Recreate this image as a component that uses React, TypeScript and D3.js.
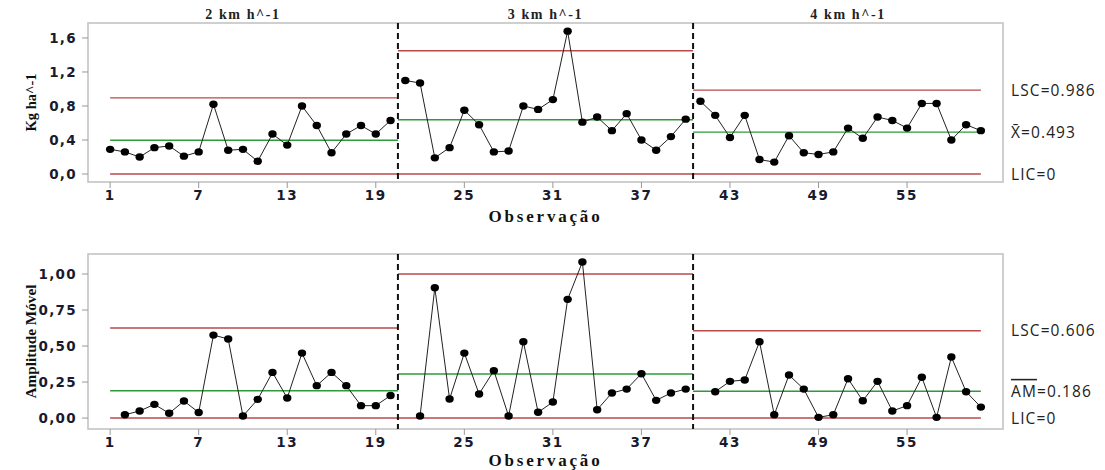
import React from "react";
import * as d3 from "d3";

const segTitles = ["2 km h^-1", "3 km h^-1", "4 km h^-1"];
const xTicks = [1, 7, 13, 19, 25, 31, 37, 43, 49, 55];
const segBounds = [[1, 20], [21, 40], [41, 60]];

const indValues = [
  0.29, 0.26, 0.2, 0.31, 0.33, 0.21, 0.26, 0.82, 0.28, 0.29,
  0.15, 0.47, 0.34, 0.8, 0.57, 0.25, 0.47, 0.57, 0.47, 0.63,
  1.1, 1.07, 0.19, 0.31, 0.75, 0.58, 0.26, 0.27, 0.8, 0.76,
  0.875, 1.68, 0.61, 0.67, 0.51, 0.71, 0.4, 0.28, 0.44, 0.645,
  0.855, 0.69, 0.43, 0.69, 0.17, 0.14, 0.45, 0.25, 0.23, 0.26,
  0.54, 0.42, 0.67, 0.63, 0.54, 0.83, 0.83, 0.4, 0.58, 0.51,
];
const mrValues: (number | null)[] = [
  null, 0.023, 0.049, 0.095, 0.033, 0.118, 0.039, 0.576, 0.549, 0.014,
  0.13, 0.317, 0.139, 0.451, 0.225, 0.317, 0.225, 0.086, 0.086, 0.157,
  null, 0.014, 0.905, 0.132, 0.451, 0.167, 0.329, 0.014, 0.53, 0.04,
  0.111, 0.824, 1.083, 0.058, 0.174, 0.201, 0.308, 0.123, 0.174, 0.201,
  null, 0.183, 0.255, 0.264, 0.53, 0.023, 0.299, 0.201, 0.005, 0.023,
  0.273, 0.12, 0.255, 0.049, 0.086, 0.283, 0.005, 0.424, 0.183, 0.076,
];

const indUCL = [0.895, 1.449, 0.986];
const indCL = [0.397, 0.638, 0.493];
const indLCL = [0, 0, 0];
const mrUCL = [0.625, 1.0, 0.606];
const mrCL = [0.19, 0.306, 0.186];
const mrLCL = [0, 0, 0];

const indYTicks = [0, 0.4, 0.8, 1.2, 1.6];
const mrYTicks = [0, 0.25, 0.5, 0.75, 1.0];

const W = 1105;
const H = 470;
const LEFT = 88;
const RIGHT = 1003;

const RED = "#b84a4a";
const GREEN = "#2e9a3a";
const FRAME = "#c4c4c4";
const tickFont = "'DejaVu Sans', Verdana, sans-serif";
const serif = "'Liberation Serif', 'DejaVu Serif', serif";
const labelFont = "'Open Sans', 'Noto Sans', sans-serif";

const x = d3.scaleLinear().domain([-0.5, 61.5]).range([LEFT, RIGHT]);

type PanelProps = {
  values: (number | null)[];
  ucl: number[];
  cl: number[];
  lcl: number[];
  yDomain: [number, number];
  top: number;
  bottom: number;
  yTicks: number[];
  fmt: (v: number) => string;
  yLabel: string;
  yLabelLen: number;
  titles: boolean;
  xTitleOffset: number;
  rightLabels: React.ReactNode[];
};

function Panel(p: PanelProps) {
  const y = d3.scaleLinear().domain(p.yDomain).range([p.bottom, p.top]);
  const line = d3
    .line<{ i: number; v: number | null }>()
    .defined((d) => d.v !== null)
    .x((d) => x(d.i))
    .y((d) => y(d.v as number));
  const mid = (p.top + p.bottom) / 2;
  const segLimits = segBounds.map((b, k) => {
    const x0 = k === 0 ? x(b[0]) : x(b[0] - 0.5);
    const x1 = k === 2 ? x(b[1]) : x(b[1] + 0.5);
    return { x0, x1, k };
  });
  return (
    <g>
      <rect
        x={LEFT}
        y={p.top}
        width={RIGHT - LEFT}
        height={p.bottom - p.top}
        fill="none"
        stroke={FRAME}
        strokeWidth={1.6}
      />
      {p.yTicks.map((t) => (
        <g key={t}>
          <line x1={LEFT - 6} x2={LEFT} y1={y(t)} y2={y(t)} stroke="#999" />
          <text
            x={LEFT - 11}
            y={y(t)}
            dy="0.36em"
            textAnchor="end"
            fontFamily={tickFont}
            fontWeight="bold"
            fontSize={13.5}
            letterSpacing={1.3}
            fill="#1a1a2e"
          >
            {p.fmt(t)}
          </text>
        </g>
      ))}
      {xTicks.map((t) => (
        <g key={t}>
          <line x1={x(t)} x2={x(t)} y1={p.bottom} y2={p.bottom + 6} stroke="#999" />
          <text
            x={x(t)}
            y={p.bottom + 18}
            textAnchor="middle"
            fontFamily={tickFont}
            fontWeight="bold"
            fontSize={13.5}
            letterSpacing={1.6}
            fill="#1a1a2e"
          >
            {t}
          </text>
        </g>
      ))}
      <text
        x={(LEFT + RIGHT) / 2}
        y={p.bottom + p.xTitleOffset}
        textAnchor="middle"
        fontFamily={serif}
        fontWeight="bold"
        fontSize={17}
        letterSpacing={2.8}
        fill="#111"
      >
        Observação
      </text>
      <text
        transform={`translate(36,${mid}) rotate(-90)`}
        textAnchor="middle"
        fontFamily={serif}
        fontWeight="bold"
        fontSize={15}
        textLength={p.yLabelLen}
        lengthAdjust="spacingAndGlyphs"
        fill="#111"
      >
        {p.yLabel}
      </text>
      {segLimits.map((s) => (
        <g key={s.k}>
          <line x1={s.x0} x2={s.x1} y1={y(p.ucl[s.k])} y2={y(p.ucl[s.k])} stroke={RED} strokeWidth={1.4} />
          <line x1={s.x0} x2={s.x1} y1={y(p.cl[s.k])} y2={y(p.cl[s.k])} stroke={GREEN} strokeWidth={1.4} />
          <line x1={s.x0} x2={s.x1} y1={y(p.lcl[s.k])} y2={y(p.lcl[s.k])} stroke={RED} strokeWidth={1.4} />
        </g>
      ))}
      {[20.5, 40.5].map((b) => (
        <line
          key={b}
          x1={x(b)}
          x2={x(b)}
          y1={p.top}
          y2={p.bottom}
          stroke="#111"
          strokeWidth={2}
          strokeDasharray="6,4"
        />
      ))}
      {segBounds.map((b, k) => {
        const pts = p.values
          .map((v, i) => ({ i: i + 1, v }))
          .filter((d) => d.i >= b[0] && d.i <= b[1]);
        return (
          <path key={k} d={line(pts) || ""} fill="none" stroke="#222" strokeWidth={1} />
        );
      })}
      {p.values.map((v, i) =>
        v === null ? null : (
          <ellipse key={i} cx={x(i + 1)} cy={y(v)} rx={4.2} ry={3.7} fill="#000" />
        )
      )}
      {p.titles &&
        segTitles.map((t, k) => {
          const x0 = k === 0 ? LEFT : x(segBounds[k][0] - 0.5);
          const x1 = k === 2 ? RIGHT : x(segBounds[k][1] + 0.5);
          return (
            <text
              key={t}
              x={(x0 + x1) / 2}
              y={p.top - 4}
              textAnchor="middle"
              fontFamily={serif}
              fontWeight="bold"
              fontSize={14}
              letterSpacing={1.6}
              fill="#222"
            >
              {t}
            </text>
          );
        })}
      {p.rightLabels.map((node, k) => {
        const yy = k === 0 ? y(p.ucl[2]) : k === 1 ? y(p.cl[2]) : y(p.lcl[2]);
        return (
          <text
            key={k}
            x={1011}
            y={yy}
            dy="0.36em"
            fontFamily={labelFont}
            fontSize={15.5}
            letterSpacing={1.1}
            fill="#222"
          >
            {node}
          </text>
        );
      })}
    </g>
  );
}

export default function App() {
  return (
    <svg width={W} height={H} style={{ position: "absolute", left: 0, top: 0 }}>
      <rect width={W} height={H} fill="#fff" />
      <Panel
        values={indValues}
        ucl={indUCL}
        cl={indCL}
        lcl={indLCL}
        yDomain={[-0.094, 1.776]}
        top={23}
        bottom={182}
        yTicks={indYTicks}
        fmt={(v) => d3.format(".1f")(v).replace(".", ",")}
        yLabel="Kg ha^-1"
        yLabelLen={58}
        titles={true}
        xTitleOffset={40}
        rightLabels={[
          "LSC=0.986",
          "X\u0304=0.493",
          "LIC=0",
        ]}
      />
      <Panel
        values={mrValues}
        ucl={mrUCL}
        cl={mrCL}
        lcl={mrLCL}
        yDomain={[-0.076, 1.139]}
        top={254}
        bottom={429}
        yTicks={mrYTicks}
        fmt={(v) => d3.format(".2f")(v).replace(".", ",")}
        yLabel="Amplitude Móvel"
        yLabelLen={114}
        titles={false}
        xTitleOffset={37}
        rightLabels={[
          "LSC=0.606",
          <>
            <tspan style={{ textDecoration: "overline" }}>AM</tspan>=0.186
          </>,
          "LIC=0",
        ]}
      />
    </svg>
  );
}
